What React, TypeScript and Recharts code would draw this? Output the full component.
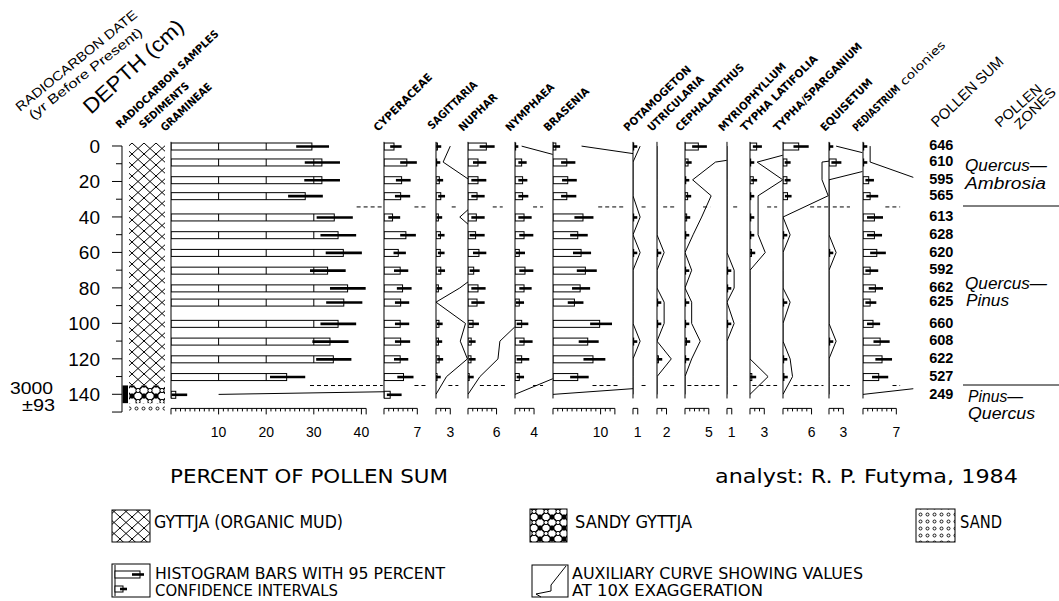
import React from 'react';
import { ComposedChart, Bar, Line, XAxis, YAxis, ErrorBar, ReferenceLine, ReferenceArea } from 'recharts';

// ---------------- DATA ----------------
const depths = [0, 9, 19, 28, 40, 50, 60, 70, 80, 88, 100, 110, 120, 130, 140];
const pollenSums = [646, 610, 595, 565, 613, 628, 620, 592, 662, 625, 660, 608, 622, 527, 249];

const gramineae = [29.6, 31.7, 31.7, 28.2, 34.3, 35.1, 36.2, 32.9, 37.1, 36.3, 35.1, 33.4, 34.1, 24.3, 1.0];
const gramineaeLo = [26.3, 28.1, 28.0, 24.6, 30.6, 31.4, 32.5, 29.2, 33.4, 32.6, 31.4, 29.7, 30.5, 20.8, 0.1];
const gramineaeHi = [33.2, 35.5, 35.5, 31.9, 38.2, 38.9, 40.1, 36.7, 40.9, 40.2, 38.9, 37.3, 37.9, 28.2, 3.4];

const cyperaceae = [2.1, 4.8, 3.7, 3.5, 1.8, 4.6, 3.0, 3.4, 3.9, 3.5, 3.4, 3.5, 3.4, 4.1, 1.3];
const cyperaceaeLo = [1.3, 3.4, 2.5, 2.3, 0.9, 3.4, 2.0, 2.1, 2.7, 2.3, 2.3, 2.3, 2.1, 2.8, 0.6];
const cyperaceaeHi = [3.7, 6.9, 5.6, 5.5, 3.4, 6.7, 4.6, 5.1, 5.8, 5.3, 5.3, 5.5, 5.1, 6.2, 3.7];

const sagittaria = [0.3, 0.15, 0.7, 1.0, 0.5, 0.93, 0.9, 1.0, 0.5, 0, 0.62, 0.51, 0.66, 0.22, 0];
const sagittariaLo = [0.04, 0, 0.25, 0.45, 0.15, 0.4, 0.4, 0.45, 0.15, 0, 0.2, 0.15, 0.25, 0.02, 0];
const sagittariaHi = [1.1, 0.9, 1.5, 1.9, 1.3, 1.8, 1.8, 1.9, 1.3, 0, 1.4, 1.3, 1.5, 1.0, 0];

const nuphar = [3.85, 2.1, 2.1, 1.9, 1.75, 1.6, 2.3, 1.2, 2.1, 1.9, 1.06, 0.67, 0.63, 0.25, 0];
const nupharLo = [2.45, 1.05, 0.7, 0.7, 0.7, 0.35, 1.05, 0.35, 0.7, 0.7, 0.2, 0.2, 0.2, 0, 0];
const nupharHi = [5.6, 3.85, 3.85, 3.5, 3.5, 3.5, 3.85, 2.45, 3.7, 3.5, 2.3, 1.6, 1.6, 1.2, 0];

const nymphaea = [0.14, 1.4, 1.6, 1.6, 1.9, 1.9, 0.9, 2.1, 1.9, 0.9, 1.4, 1.9, 1.4, 0.9, 0];
const nymphaeaLo = [0, 0.7, 0.7, 0.7, 0.7, 0.9, 0.2, 0.9, 0.9, 0.2, 0.35, 0.9, 0.35, 0.35, 0];
const nymphaeaHi = [0.7, 2.45, 2.6, 2.8, 3.5, 3.85, 2.1, 3.85, 3.5, 1.9, 2.8, 3.7, 3.0, 1.9, 0];

const brasenia = [0.6, 2.9, 3.1, 2.9, 6.3, 5.2, 5.9, 6.8, 5.7, 4.5, 9.8, 7.3, 8.4, 5.2, 0];
const braseniaLo = [0, 1.7, 1.9, 1.7, 4.5, 3.6, 4.2, 5.0, 4.0, 3.1, 7.8, 5.4, 6.4, 3.6, 0];
const braseniaHi = [1.5, 4.7, 5.0, 4.9, 8.5, 7.3, 8.0, 9.2, 7.8, 6.4, 12.4, 9.6, 11.0, 7.5, 0];

const potamogeton = [0.15, 0, 0, 0, 0.15, 0, 0.15, 0, 0, 0, 0, 0.15, 0, 0, 0];
const potamogetonLo = [0, 0, 0, 0, 0, 0, 0, 0, 0, 0, 0, 0, 0, 0, 0];
const potamogetonHi = [0.9, 0, 0, 0, 0.9, 0, 0.9, 0, 0, 0, 0, 0.9, 0, 0, 0];

const utricularia = [0, 0, 0, 0, 0, 0, 0.15, 0, 0, 0.15, 0.15, 0, 0.3, 0, 0];
const utriculariaLo = [0, 0, 0, 0, 0, 0, 0, 0, 0, 0, 0, 0, 0.04, 0, 0];
const utriculariaHi = [0, 0, 0, 0, 0, 0, 0.9, 0, 0, 0.9, 0.9, 0, 1.1, 0, 0];

const cephalanthus = [2.8, 0.64, 0.16, 0.55, 0.35, 0.17, 0, 0.14, 0, 0.14, 0.14, 0.32, 0.14, 0, 0];
const cephalanthusLo = [1.5, 0.22, 0, 0.15, 0.05, 0, 0, 0, 0, 0, 0, 0.04, 0, 0, 0];
const cephalanthusHi = [4.6, 1.4, 0.9, 1.3, 1.1, 0.9, 0, 0.9, 0, 0.9, 0.9, 1.1, 0.9, 0, 0];

const myriophyllum = [0, 0, 0, 0, 0, 0, 0, 0.15, 0.15, 0, 0.15, 0, 0, 0, 0];
const myriophyllumLo = [0, 0, 0, 0, 0, 0, 0, 0, 0, 0, 0, 0, 0, 0, 0];
const myriophyllumHi = [0, 0, 0, 0, 0, 0, 0, 0.9, 0.9, 0, 0.9, 0, 0, 0, 0];

const typhaLatifolia = [1.4, 0.15, 0.69, 0.17, 0.17, 0.17, 0.32, 0, 0, 0, 0, 0, 0, 0.38, 0];
const typhaLatifoliaLo = [0.6, 0, 0.25, 0, 0, 0, 0.04, 0, 0, 0, 0, 0, 0, 0.05, 0];
const typhaLatifoliaHi = [2.5, 0.9, 1.5, 0.9, 0.9, 0.9, 1.1, 0, 0, 0, 0, 0, 0, 1.3, 0];

const typhaSparganium = [3.3, 0.82, 0.82, 0.95, 0, 0.15, 0, 0, 0, 0.15, 0, 0, 0.15, 0.2, 0];
const typhaSparganiumLo = [2.2, 0.35, 0.35, 0.4, 0, 0, 0, 0, 0, 0, 0, 0, 0, 0.02, 0];
const typhaSparganiumHi = [5.4, 1.6, 1.6, 1.8, 0, 0.9, 0, 0, 0, 0.9, 0, 0, 0.9, 1.0, 0];

const equisetum = [0.15, 1.5, 0, 0, 0, 0, 0.15, 0, 0, 0, 0, 0.15, 0, 0, 0];
const equisetumLo = [0, 0.5, 0, 0, 0, 0, 0, 0, 0, 0, 0, 0, 0, 0, 0];
const equisetumHi = [0.9, 2.6, 0, 0, 0, 0, 0.9, 0, 0, 0, 0, 0.9, 0, 0, 0];

const pediastrum = [0.15, 0.15, 1.2, 1.5, 2.4, 2.4, 2.9, 1.5, 2.6, 1.5, 2.1, 3.6, 4.0, 3.3, 0];
const pediastrumLo = [0, 0, 0.5, 0.7, 0.85, 0.85, 1.5, 0.5, 1.2, 0.5, 0.85, 2.2, 2.6, 1.9, 0];
const pediastrumHi = [0.9, 0.9, 2.3, 3.2, 4.2, 4.0, 4.8, 3.2, 4.2, 2.8, 3.6, 5.6, 6.1, 5.3, 0];

const taxonNames = ['GRAMINEAE', 'CYPERACEAE', 'SAGITTARIA', 'NUPHAR', 'NYMPHAEA', 'BRASENIA', 'POTAMOGETON',
  'UTRICULARIA', 'CEPHALANTHUS', 'MYRIOPHYLLUM', 'TYPHA LATIFOLIA', 'TYPHA/SPARGANIUM', 'EQUISETUM', 'PEDIASTRUM'];
const taxonValues = [gramineae, cyperaceae, sagittaria, nuphar, nymphaea, brasenia, potamogeton, utricularia,
  cephalanthus, myriophyllum, typhaLatifolia, typhaSparganium, equisetum, pediastrum];
const taxonLo = [gramineaeLo, cyperaceaeLo, sagittariaLo, nupharLo, nymphaeaLo, braseniaLo, potamogetonLo, utriculariaLo,
  cephalanthusLo, myriophyllumLo, typhaLatifoliaLo, typhaSparganiumLo, equisetumLo, pediastrumLo];
const taxonHi = [gramineaeHi, cyperaceaeHi, sagittariaHi, nupharHi, nymphaeaHi, braseniaHi, potamogetonHi, utriculariaHi,
  cephalanthusHi, myriophyllumHi, typhaLatifoliaHi, typhaSparganiumHi, equisetumHi, pediastrumHi];

const scaleMax = [41, 7, 3, 6, 4, 13, 1, 2, 5, 1, 3, 6, 3, 7];
const scaleLabels = [[10, 20, 30, 40], [7], [3], [6], [4], [10], [1], [2], [5], [1], [3], [6], [3], [7]];
const exaggeration = 10;

const depthTicks = [0, 10, 20, 30, 40, 50, 60, 70, 80, 90, 100, 110, 120, 130, 140, 150];
const depthLabels = [0, 20, 40, 60, 80, 100, 120, 140];
const zoneBoundaries = [34.3, 135];
const zoneNames = [['Quercus—', 'Ambrosia'], ['Quercus—', 'Pinus'], ['Pinus—', 'Quercus']];
const sedimentFills = ['url(#pat-gyttja)', 'url(#pat-sandy)', 'url(#pat-sand)'];
const sedimentTop = [-1.7, 135, 145];
const sedimentBottom = [135, 145, 149.5];
const radiocarbonTop = 135;
const radiocarbonBottom = 145;
const radiocarbonAge = '3000';
const radiocarbonError = '±93';

// ---------------- LAYOUT ----------------
const PXU = 4.76; // px per percent
const Y0 = 146; // y of depth 0
const PX = 1.7736; // px per cm
const D_TOP = -4;
const D_BOT = 147.9;
const PLOT_TOP = Y0 + D_TOP * PX;
const PLOT_H = (D_BOT - D_TOP) * PX;
const ML = 3;
const MT = 10;
const AXIS_H = 38;

const panelBase = [171, 384, 435.7, 468.3, 515, 552.7, 633.3, 656.7, 685, 726.7, 750, 782.7, 829.3, 862.7, 913];
const dashUpper = [[39, 44.5], [6.4, 9.2], [3.3, 4.2], [5.2, 7.3], [3.8, 5.9], [9.5, 14.8], [1.8, 2.9], [1.3, 3.9],
  [3.8, 5.3], [1.3, 2.4], [3.6, 5.7], [5.7, 9.5], [0.8, 4.4], [4.7, 7.8]];
const dashLower = [[29.2, 44.5], [6.4, 9.2], [2.6, 4.7], [2.5, 8.1], [3.8, 5.9], [8.3, 14.1], [1.8, 2.9], [1.3, 3.9],
  [0.5, 7.4], [1.3, 2.4], [0.5, 5.7], [2.2, 8.5], [0.8, 4.4], [6.2, 7.8]];
// header [x, y, length, angle]
const headerPos = [[165, 132, 65, 43], [378, 132, 77, 44.5], [432, 130, 64, 44], [463, 132, 49, 44], [510, 132, 63, 44.5],
  [548, 132, 58, 43.6], [628, 132, 89, 44], [652, 132, 74, 44.5], [680, 132, 91, 44.5], [723, 132, 91, 45.5],
  [745, 132, 103, 44.6], [778, 132, 120, 45], [825, 132, 69, 45.6], [857, 132, 61, 44]];

const NUM_FONT = '"Liberation Sans", Arial, sans-serif';
const HEAD_FONT = '"DejaVu Sans Condensed", "DejaVu Sans", sans-serif';
const LEG_FONT = '"Liberation Sans Narrow", "DejaVu Sans Condensed", "Liberation Sans", sans-serif';

// ---------------- COMPONENTS ----------------
function ScaleTick(props: any) {
  const { x, y, payload, labels, tickMax } = props;
  const v = payload.value;
  const lab = labels.includes(v);
  const major = v === 0 || lab || v === tickMax || (tickMax > 20 && v % 10 === 0);
  return (
    <g>
      <line x1={x} x2={x} y1={y} y2={y + (major ? 6 : 3)} stroke="#000" strokeWidth={1} />
      {lab && (
        <text x={x} y={y + 28.5} textAnchor="middle" fontSize={14} fontFamily={NUM_FONT} fill="#000">{v}</text>
      )}
    </g>
  );
}

function DepthTick(props: any) {
  const { x, y, payload } = props;
  const v = payload.value;
  const lab = depthLabels.includes(v);
  const long = lab || v === 150;
  return (
    <g>
      <line x1={x - (long ? 10 : 6)} x2={x} y1={y} y2={y} stroke="#000" strokeWidth={1} />
      {lab && (
        <text x={x - 22} y={y} dy="0.36em" textAnchor="end" fontSize={19} fontFamily={NUM_FONT} fill="#000">{v}</text>
      )}
    </g>
  );
}

function SumTick(props: any) {
  const { x, y, payload } = props;
  const i = depths.indexOf(payload.value);
  if (i < 0) return null;
  return (
    <text x={x + 40} y={y - 1} dy="0.36em" textAnchor="end" fontSize={14.5} fontWeight="bold" fontFamily={NUM_FONT} fill="#000">
      {pollenSums[i]}
    </text>
  );
}

function BarShape(props: any) {
  const { x, y, width, height, payload } = props;
  if (!width || width <= 0 || !payload) return null;
  const v = payload.v;
  const ppu = width / v;
  const inner: number[] = [];
  for (let k = 10; k < v; k += 10) inner.push(x + k * ppu);
  return (
    <g>
      <rect x={x} y={y} width={width} height={height} fill="#fff" stroke="#000" strokeWidth={1} />
      {inner.map((lx) => (
        <line key={lx} x1={lx} x2={lx} y1={y} y2={y + height} stroke="#000" strokeWidth={1} />
      ))}
    </g>
  );
}

function TaxonPanel({ idx }: { idx: number }) {
  const vals = taxonValues[idx];
  const lo = taxonLo[idx];
  const hi = taxonHi[idx];
  const rows = depths.map((d, i) => ({
    depth: d,
    v: vals[i],
    err: [vals[i] - lo[i], hi[i] - vals[i]],
    x10: vals[i] * exaggeration,
  }));
  const base = panelBase[idx];
  const next = panelBase[idx + 1];
  const clipW = next - base;
  const clip = clipW / PXU;
  const tickMax = scaleMax[idx];
  const ticks = Array.from({ length: tickMax + 1 }, (_, i) => i);
  const last = idx === taxonValues.length - 1;
  const yW = last ? 50 : 0;
  const du = dashUpper[idx];
  const dl = dashLower[idx];
  return (
    <div style={{ position: 'absolute', left: base - ML, top: PLOT_TOP - MT }}>
      <ComposedChart
        layout="vertical"
        width={clipW + ML + yW}
        height={MT + PLOT_H + AXIS_H}
        data={rows}
        margin={{ top: MT, right: 0, bottom: 0, left: ML }}
      >
        <XAxis
          type="number"
          domain={[0, clip]}
          allowDataOverflow
          ticks={ticks}
          interval={0}
          tickLine={false}
          axisLine={false}
          tickSize={0}
          tickMargin={0}
          height={AXIS_H}
          tick={(p: any) => <ScaleTick {...p} labels={scaleLabels[idx]} tickMax={tickMax} />}
        />
        <YAxis
          type="number"
          dataKey="depth"
          domain={[D_TOP, D_BOT]}
          allowDataOverflow
          hide={!last}
          orientation={last ? 'right' : 'left'}
          width={yW}
          ticks={depths}
          interval={0}
          tickLine={false}
          axisLine={false}
          tickSize={0}
          tickMargin={0}
          tick={(p: any) => <SumTick {...p} />}
        />
        <ReferenceLine segment={[{ x: 0, y: -2.4 }, { x: 0, y: 142.3 }]} stroke="#000" strokeWidth={1} ifOverflow="visible" />
        <ReferenceLine segment={[{ x: 0, y: D_BOT }, { x: tickMax, y: D_BOT }]} stroke="#000" strokeWidth={1} ifOverflow="visible" />
        <ReferenceLine segment={[{ x: du[0], y: zoneBoundaries[0] }, { x: du[1], y: zoneBoundaries[0] }]} stroke="#000" strokeWidth={1} strokeDasharray="4 3" ifOverflow="visible" />
        <ReferenceLine segment={[{ x: dl[0], y: zoneBoundaries[1] }, { x: dl[1], y: zoneBoundaries[1] }]} stroke="#000" strokeWidth={1} strokeDasharray="4 3" ifOverflow="visible" />
        <Bar dataKey="v" barSize={7} fill="#fff" stroke="#000" isAnimationActive={false} shape={(p: any) => <BarShape {...p} />}>
          <ErrorBar dataKey="err" direction="x" width={0} strokeWidth={2.6} stroke="#000" />
        </Bar>
        <Line dataKey="x10" type="linear" stroke="#000" strokeWidth={1} dot={false} activeDot={false} isAnimationActive={false} />
      </ComposedChart>
    </div>
  );
}

function DepthColumn() {
  const rows = depths.map((d) => ({ depth: d, col: 0 }));
  const top = 14;
  const bottom = 8;
  const h = 150 * PX;
  return (
    <div style={{ position: 'absolute', left: 0, top: Y0 - top }}>
      <ComposedChart
        layout="vertical"
        width={171}
        height={top + h + bottom}
        data={rows}
        margin={{ top, right: 0, bottom, left: 0 }}
      >
        <XAxis type="number" domain={[0, 49]} hide allowDataOverflow />
        <YAxis
          type="number"
          dataKey="depth"
          domain={[0, 150]}
          allowDataOverflow
          width={122}
          ticks={depthTicks}
          interval={0}
          tickSize={0}
          tickMargin={0}
          tickLine={false}
          axisLine={{ stroke: '#000', strokeWidth: 1 }}
          tick={(p: any) => <DepthTick {...p} />}
        />
        {sedimentFills.map((f, i) => (
          <ReferenceArea key={i} x1={7} x2={43} y1={sedimentTop[i]} y2={sedimentBottom[i]} fill={f} fillOpacity={1} stroke="none" ifOverflow="visible" />
        ))}
        <ReferenceArea x1={0.5} x2={6} y1={radiocarbonTop} y2={radiocarbonBottom} fill="#000" fillOpacity={1} stroke="none" ifOverflow="visible" />
      </ComposedChart>
    </div>
  );
}

function Rot({ x, y, len, angle, size = 11.5, weight = 'bold', family = HEAD_FONT, children }: any) {
  return (
    <text
      x={x}
      y={y}
      transform={`rotate(${-angle} ${x} ${y})`}
      fontSize={size}
      fontWeight={weight}
      fontFamily={family}
      textLength={len}
      lengthAdjust="spacingAndGlyphs"
      fill="#000"
    >
      {children}
    </text>
  );
}

function T({ x, y, len, size = 17, family = LEG_FONT, italic = false, anchor = 'start', children }: any) {
  return (
    <text
      x={x}
      y={y}
      fontSize={size}
      fontFamily={family}
      fontStyle={italic ? 'italic' : 'normal'}
      textAnchor={anchor}
      textLength={len}
      lengthAdjust={len ? 'spacingAndGlyphs' : undefined}
      fill="#000"
    >
      {children}
    </text>
  );
}

function Overlay() {
  const pedAng = 44 * Math.PI / 180;
  const pedX = 857 + 66 * Math.cos(pedAng);
  const pedY = 132 - 66 * Math.sin(pedAng);
  return (
    <svg width={1059} height={601} style={{ position: 'absolute', left: 0, top: 0, pointerEvents: 'none' }}>
      <defs>
        <pattern id="pat-gyttja" patternUnits="userSpaceOnUse" width={12} height={11}>
          <rect width={12} height={11} fill="#fff" />
          <path d="M0,0 L12,11 M12,0 L0,11" stroke="#000" strokeWidth={1} fill="none" />
        </pattern>
        <pattern id="pat-sandy" patternUnits="userSpaceOnUse" width={12} height={11}>
          <rect width={12} height={11} fill="#fff" />
          <path d="M0,0 L12,11 M12,0 L0,11" stroke="#000" strokeWidth={1.6} fill="none" />
          <path d="M0,0 L3,0 L0,3 Z M12,0 L9,0 L12,3 Z M0,11 L3,11 L0,8 Z M12,11 L9,11 L12,8 Z" fill="#000" />
          <circle cx={6} cy={5.5} r={2.1} fill="#fff" stroke="#000" strokeWidth={1} />
        </pattern>
        <pattern id="pat-sand" patternUnits="userSpaceOnUse" width={7} height={7}>
          <rect width={7} height={7} fill="#fff" />
          <circle cx={3.5} cy={3.5} r={1.5} fill="none" stroke="#000" strokeWidth={0.9} />
        </pattern>
      </defs>

      {/* left headers */}
      <Rot x={20} y={112} len={152} angle={39} size={13} weight="normal" family={NUM_FONT}>RADIOCARBON DATE</Rot>
      <Rot x={33} y={120} len={140} angle={38} size={13} weight="normal" family={NUM_FONT}>(yr Before Present)</Rot>
      <Rot x={91} y={115} len={128} angle={42.5} size={21} weight="normal" family={NUM_FONT}>DEPTH (cm)</Rot>
      <Rot x={120} y={129} len={137} angle={43.5} size={10.5}>RADIOCARBON SAMPLES</Rot>
      <Rot x={143} y={129} len={63} angle={42} size={10.5}>SEDIMENTS</Rot>

      {/* taxon headers */}
      {taxonNames.map((n, i) => (
        <Rot key={n} x={headerPos[i][0]} y={headerPos[i][1]} len={headerPos[i][2]} angle={headerPos[i][3]} size={11}>{n}</Rot>
      ))}
      <Rot x={pedX} y={pedY} len={58} angle={44} size={11.5} weight="normal">colonies</Rot>

      <Rot x={937} y={128} len={94} angle={44} size={15} weight="normal" family={NUM_FONT}>POLLEN SUM</Rot>
      <Rot x={1000} y={128} len={57} angle={41.5} size={14} weight="normal" family={NUM_FONT}>POLLEN</Rot>
      <Rot x={1020} y={130} len={52} angle={45} size={14} weight="normal" family={NUM_FONT}>ZONES</Rot>

      {/* radiocarbon date */}
      <T x={53} y={394} len={43} size={16.5} family={NUM_FONT} anchor="end">{radiocarbonAge}</T>
      <T x={55} y={411} len={33} size={16.5} family={NUM_FONT} anchor="end">{radiocarbonError}</T>

      {/* pollen zones */}
      <line x1={963} x2={1059} y1={206} y2={206} stroke="#000" strokeWidth={1} />
      <line x1={963} x2={1059} y1={385} y2={385} stroke="#000" strokeWidth={1} />
      <T x={965} y={171} len={82} size={16} family={NUM_FONT} italic>{zoneNames[0][0]}</T>
      <T x={965} y={189} len={81} size={16} family={NUM_FONT} italic>{zoneNames[0][1]}</T>
      <T x={965} y={289} len={82} size={16} family={NUM_FONT} italic>{zoneNames[1][0]}</T>
      <T x={966} y={306} len={43} size={16} family={NUM_FONT} italic>{zoneNames[1][1]}</T>
      <T x={968} y={402} len={55} size={16} family={NUM_FONT} italic>{zoneNames[2][0]}</T>
      <T x={968} y={419} len={67} size={16} family={NUM_FONT} italic>{zoneNames[2][1]}</T>

      {/* titles */}
      <T x={170} y={483} len={278} size={20}>PERCENT OF POLLEN SUM</T>
      <T x={715} y={483} len={303} size={20} family='"DejaVu Sans", sans-serif'>analyst: R. P. Futyma, 1984</T>

      {/* legend row 1 */}
      <rect x={112} y={510} width={38} height={32} fill="url(#pat-gyttja)" stroke="#000" strokeWidth={1} />
      <T x={154} y={528} len={189}>GYTTJA (ORGANIC MUD)</T>
      <rect x={530} y={509} width={37} height={33} fill="url(#pat-sandy)" stroke="#000" strokeWidth={1} />
      <T x={575} y={528} len={117}>SANDY GYTTJA</T>
      <rect x={916} y={509} width={39} height={33} fill="url(#pat-sand)" stroke="#000" strokeWidth={1} />
      <T x={960} y={528} len={42}>SAND</T>

      {/* legend row 2 */}
      <rect x={112} y={564} width={38} height={33} fill="none" stroke="#000" strokeWidth={1} />
      <line x1={115} x2={115} y1={565} y2={596} stroke="#000" strokeWidth={1} />
      <rect x={115} y={571} width={25} height={7} fill="#fff" stroke="#000" strokeWidth={1} />
      <line x1={132} x2={144} y1={574.5} y2={574.5} stroke="#000" strokeWidth={2.6} />
      <rect x={115} y={586} width={8} height={6} fill="#fff" stroke="#000" strokeWidth={1} />
      <line x1={120} x2={127} y1={589} y2={589} stroke="#000" strokeWidth={2.6} />
      <T x={155} y={579} len={290} size={16.5}>HISTOGRAM BARS WITH 95 PERCENT</T>
      <T x={155} y={596} len={183} size={16.5}>CONFIDENCE INTERVALS</T>

      <rect x={532} y={565} width={36} height={32} fill="none" stroke="#000" strokeWidth={1} />
      <polyline points="566,566 551,585 551,591 536,594 541,597" fill="none" stroke="#000" strokeWidth={1} />
      <T x={572} y={579} len={291} size={16.5}>AUXILIARY CURVE SHOWING VALUES</T>
      <T x={572} y={596} len={191} size={16.5}>AT 10X EXAGGERATION</T>
    </svg>
  );
}

export default function App() {
  return (
    <div style={{ position: 'absolute', left: 0, top: 0, width: 1059, height: 601, background: '#fff', overflow: 'hidden' }}>
      <DepthColumn />
      {taxonValues.map((_, i) => (
        <TaxonPanel key={i} idx={i} />
      ))}
      <Overlay />
    </div>
  );
}
